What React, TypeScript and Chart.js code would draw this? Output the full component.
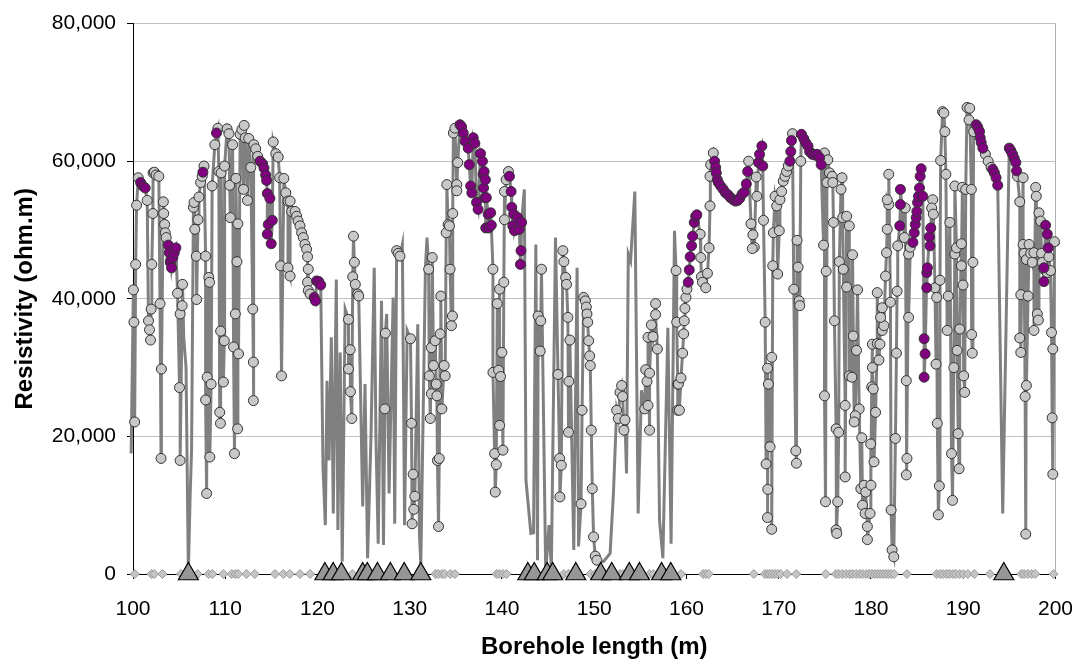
import React, { useEffect, useRef } from "react";
import { Chart, registerables } from "chart.js";

Chart.register(...registerables);

type P = [number, number];

// Borehole length (m), resistivity (ohm.m) — gray marked samples
const grayPoints: P[] = [
  [100.04, 41300], [100.1, 36600], [100.18, 22100], [100.29, 45000], [100.39, 53600], [100.57, 57600],
  [101.54, 54300], [101.68, 36800], [101.79, 35500], [101.9, 34000], [101.97, 38500], [102.04, 45000],
  [102.15, 52400], [102.18, 58300], [102.32, 58400], [102.5, 58000], [102.8, 57800], [102.93, 39300],
  [103.04, 16800], [103.08, 29800], [103.29, 54100], [103.33, 52400], [103.43, 50800], [103.5, 49600],
  [103.6, 48900], [104.83, 40800], [105.04, 27100], [105.11, 37800], [105.11, 16500], [105.33, 39000],
  [105.37, 42100], [106.55, 53300], [106.62, 54000], [106.7, 50100], [106.87, 46200], [106.9, 39900],
  [107.05, 51500], [107.15, 54800], [107.33, 56900], [107.5, 57800], [107.7, 59300], [107.87, 46200],
  [107.87, 25300], [107.98, 11700], [108.04, 28600], [108.22, 43100], [108.3, 42400], [108.33, 17000],
  [108.47, 27600], [108.58, 56400], [108.87, 62400], [109.2, 64800], [109.3, 58500], [109.4, 23500],
  [109.48, 21900], [109.5, 35300], [109.55, 58300], [109.8, 27900], [109.9, 33900], [109.93, 59300],
  [110.2, 64700], [110.4, 64000], [110.48, 56500], [110.55, 51800], [110.8, 62400], [110.9, 33000],
  [111.0, 17500], [111.09, 37800], [111.16, 57500], [111.27, 45400], [111.34, 21100], [111.37, 50900],
  [111.44, 32000], [111.62, 63900], [111.8, 64600], [111.98, 55900], [112.05, 65200], [112.16, 63400],
  [112.41, 54300], [112.55, 63300], [112.77, 59100], [112.98, 38500], [113.05, 30800], [113.05, 25200],
  [113.1, 62400], [113.3, 61800], [113.52, 60700], [115.2, 62800], [115.48, 61100], [115.74, 60600],
  [115.9, 57600], [116.0, 44800], [116.1, 28800], [116.35, 57500], [116.56, 55400], [116.8, 54200],
  [116.8, 44500], [117.03, 43300], [117.03, 54200], [117.2, 52700], [117.57, 52700], [117.74, 52000],
  [117.9, 51300], [118.1, 50600], [118.28, 49600], [118.46, 48900], [118.64, 47900], [118.82, 47200],
  [118.92, 46100], [119.0, 44300], [118.92, 42400], [119.0, 41200], [119.2, 40700],
  [123.36, 37000], [123.54, 32600], [123.36, 29800], [123.57, 26500], [123.72, 22600], [123.9, 49100],
  [124.0, 45300], [123.82, 43200], [124.1, 42100], [124.36, 40700], [124.47, 40400],
  [127.3, 24000], [127.36, 35000], [128.58, 47000], [128.75, 46600], [128.94, 46200],
  [130.08, 34200], [130.19, 21900], [130.37, 14500], [130.55, 11300], [130.44, 9400], [130.26, 7300],
  [132.05, 44300], [132.12, 28800], [132.23, 22600], [132.34, 32900], [132.34, 26200], [132.44, 46000],
  [132.58, 30300], [132.76, 33900], [132.87, 27600], [132.94, 25900], [133.0, 16500], [133.12, 6900],
  [133.2, 16800], [133.3, 34900], [133.37, 40400], [133.48, 24000], [133.73, 30300], [133.84, 28800],
  [133.95, 49600], [134.02, 56600], [134.16, 50800], [134.3, 50600], [134.37, 44300], [134.52, 36100],
  [134.63, 37500], [134.66, 52400], [134.73, 64100], [134.9, 64800], [135.1, 56600], [135.1, 55700],
  [135.2, 59800],
  [139.02, 44300], [139.49, 39300], [139.74, 41400], [140.2, 42400], [139.99, 32200], [139.02, 29300],
  [139.63, 29600], [139.84, 28700], [139.74, 21600], [139.2, 17500], [139.38, 15900], [140.1, 18000],
  [139.27, 11900], [140.27, 55600], [140.45, 57300], [140.7, 58500], [140.27, 51500],
  [143.92, 37500], [144.2, 36800], [144.14, 32400], [144.28, 44300],
  [146.07, 29000], [146.25, 16800], [146.43, 15800], [146.28, 11200], [146.6, 47000], [146.71, 45400],
  [146.9, 43100], [147.0, 42100], [147.14, 37300], [147.36, 34000], [147.25, 28000], [147.21, 20600],
  [148.57, 10200], [148.68, 23800], [148.86, 40200], [149.04, 39700], [149.14, 38800], [149.21, 37800],
  [149.29, 36600], [149.39, 33900], [149.5, 31700], [149.57, 30300], [149.68, 20900], [149.79, 12400],
  [149.93, 5400], [150.11, 2600], [150.29, 2000],
  [152.43, 23800], [152.61, 22600], [152.79, 26400], [152.97, 27400], [153.08, 25800], [153.22, 20900],
  [153.33, 22400],
  [155.47, 24000], [155.58, 29700], [155.72, 28000], [155.83, 24500], [156.0, 20900], [156.0, 29200],
  [155.83, 34400], [156.19, 36200], [156.37, 34500], [156.65, 39300], [156.65, 37700], [156.84, 32700],
  [158.87, 44100], [158.94, 36600], [159.05, 27600], [159.05, 23800],
  [159.23, 23800], [159.12, 27600], [159.4, 28500], [159.58, 32100], [159.69, 34900], [159.76, 36800],
  [159.83, 38600], [159.94, 40200], [160.05, 41400],
  [161.48, 49400], [161.55, 46000], [161.62, 43200], [161.73, 42400], [162.09, 41600], [162.27, 43700],
  [162.45, 47400], [162.55, 53500], [162.55, 57800], [162.62, 59500], [162.91, 61200],
  [166.74, 60000], [166.99, 50900], [167.2, 49300], [167.35, 47500], [167.13, 47300], [167.56, 57700],
  [167.63, 54900],
  [168.35, 51400], [168.53, 36600], [168.78, 29900], [168.88, 27600], [169.06, 18500], [169.24, 31500],
  [168.63, 16000], [168.81, 12300], [168.78, 8200], [169.24, 6500], [169.42, 49600], [169.6, 54900],
  [169.78, 53500], [170.06, 49900], [169.35, 44800], [169.88, 43600], [170.13, 54400], [170.31, 55600],
  [170.49, 57100], [170.67, 57800], [170.85, 58500], [171.03, 59300],
  [171.49, 64000], [171.63, 41400], [171.99, 48500], [172.1, 44600], [172.21, 39700], [172.28, 39000],
  [171.85, 17900], [171.92, 16100], [172.39, 60000],
  [174.96, 61200], [175.32, 60200], [175.5, 58300], [175.79, 57800], [175.22, 56900], [174.86, 47800],
  [175.14, 44000], [174.96, 25900], [175.07, 10500], [175.86, 56900], [175.93, 51100], [176.04, 36800],
  [176.22, 21100], [176.5, 20600], [176.39, 10500], [176.22, 6400], [176.29, 5900], [176.57, 45400],
  [176.86, 57600], [176.75, 55900], [176.93, 51800], [177.0, 44300], [177.2, 24500], [177.2, 14100],
  [177.36, 52000], [177.65, 50600], [178.0, 46400], [177.36, 41700], [177.65, 28800], [177.93, 28600],
  [178.08, 34600], [178.43, 32500], [178.54, 41300], [178.72, 24000], [178.3, 23000], [178.18, 22100],
  [179.0, 19800], [178.9, 12400], [179.26, 12900], [179.43, 11900], [179.08, 10000], [179.36, 8800],
  [179.61, 6900], [179.61, 5000], [179.97, 18900], [180.08, 27200], [180.15, 33400],
  [179.9, 8800], [180.0, 12900], [180.33, 16300], [180.5, 23500], [180.25, 26900], [180.15, 30000],
  [180.86, 31100], [180.68, 33500], [180.97, 33400], [181.22, 35400], [181.4, 36100], [181.04, 37300],
  [181.22, 38700], [180.68, 40900], [181.58, 43300], [181.68, 46700], [181.76, 50100], [181.93, 53700],
  [181.76, 54400], [181.93, 58100], [182.11, 39500], [182.18, 9300], [182.29, 3500], [182.47, 2500],
  [182.65, 19700], [182.76, 32100], [182.83, 41100], [182.9, 47700],
  [183.62, 48900], [183.72, 53200], [183.83, 28100], [183.9, 16800], [183.83, 14400], [184.08, 46500],
  [184.08, 37300], [184.26, 47500],
  [186.69, 54400], [186.58, 53200], [186.76, 52300], [186.94, 41600], [187.12, 40200], [187.05, 30500],
  [187.19, 21900], [187.41, 12800], [187.3, 8600], [187.48, 42700], [187.55, 60100], [187.76, 67200],
  [187.9, 67000], [188.01, 64300], [188.12, 58100], [188.37, 40400], [188.26, 35400], [188.55, 51100],
  [188.73, 17500], [188.84, 10700], [188.98, 30000], [189.09, 46500], [189.09, 56400], [189.27, 47400],
  [189.34, 32500], [189.45, 20400], [189.55, 15300], [189.62, 35600], [189.8, 48000], [189.8, 44800],
  [189.91, 56200], [189.98, 42000], [190.05, 28800], [190.16, 26400], [190.27, 55900], [190.41, 67800],
  [190.63, 66000], [190.7, 67700], [190.91, 34800], [190.98, 32100], [191.05, 45300], [190.88, 55900],
  [191.13, 64300], [192.4, 61000], [192.7, 60000], [193.02, 59100],
  [195.88, 57800], [196.13, 54100], [196.49, 57600], [196.24, 40600], [196.49, 47900], [196.6, 46600],
  [196.85, 45700], [197.03, 40400], [196.13, 34300], [196.24, 32200], [196.85, 27400], [196.71, 25800],
  [196.78, 5800], [197.14, 47900], [197.31, 46600], [197.49, 45300], [197.67, 46700], [197.85, 56200],
  [197.92, 54900], [198.03, 37800], [198.14, 36900], [197.67, 35400], [198.21, 52500], [198.39, 51300],
  [198.49, 46600], [198.57, 45300], [198.75, 44300], [199.11, 43800], [199.28, 46100], [199.46, 44100],
  [199.57, 35100], [199.71, 32700], [199.64, 22700], [199.71, 14500], [199.89, 48300],
];

// purple highlighted samples
const purplePoints: P[] = [
  [100.82, 56900], [101.07, 56400], [101.32, 56100], [103.83, 47800], [103.93, 46700], [104.04, 45300],
  [104.11, 45700], [104.18, 44500], [104.33, 46000], [104.47, 46700], [104.65, 47400], [107.58, 58400],
  [109.05, 64100], [113.77, 60000], [114.06, 59600], [114.2, 59000], [114.38, 58000], [114.48, 57200],
  [114.56, 55300], [114.84, 54600], [114.66, 50800], [114.56, 49400], [114.98, 48000], [115.1, 51400],
  [119.64, 40200], [119.78, 39700], [119.9, 42600], [120.14, 42500], [120.35, 42000],
  [135.45, 65300], [135.62, 65000], [135.8, 64100], [136.0, 62900], [136.34, 61900], [136.45, 59500],
  [136.6, 56400], [136.73, 55400], [136.88, 63400], [137.06, 62600], [137.24, 54000], [137.41, 53000],
  [137.67, 61100], [137.88, 60000], [137.95, 58100], [138.0, 56100], [138.06, 58500], [138.13, 54700],
  [138.2, 57300], [138.24, 50300], [138.3, 54700], [138.5, 52300], [138.56, 50300], [138.77, 52500],
  [138.84, 50700],
  [140.81, 57800], [140.99, 55600], [141.06, 53300], [141.17, 50600], [141.27, 52300], [141.35, 49900],
  [141.7, 51800], [141.88, 50100], [142.0, 45000], [142.06, 47000], [142.13, 51100],
  [160.19, 42400], [160.3, 44200], [160.4, 46100], [160.55, 47700], [160.66, 49100], [160.84, 51100],
  [161.0, 52000], [161.12, 52200],
  [163.05, 60000], [163.16, 59100], [163.23, 58300], [163.34, 57300], [163.45, 56900], [163.7, 56400],
  [163.98, 55900], [164.23, 55400], [164.52, 55100], [164.77, 54700], [165.06, 54400], [165.31, 54200],
  [165.56, 54300], [165.77, 54600], [166.02, 55200], [166.27, 55500], [166.49, 56700], [166.63, 58500],
  [167.81, 59800], [167.92, 61000], [168.17, 62200], [168.27, 59300],
  [171.21, 60000], [171.31, 61400], [171.38, 63000], [172.46, 63900], [172.71, 63300], [172.92, 62700],
  [173.17, 62200], [173.35, 61400], [173.64, 61000], [173.89, 60900], [174.14, 61000], [174.43, 60500],
  [174.6, 59500],
  [183.12, 50600], [183.19, 53700], [183.19, 55900], [184.55, 48200], [184.69, 49600], [184.8, 50800],
  [184.9, 51800], [184.97, 52700], [185.05, 54000], [185.15, 54900], [185.26, 56100], [185.33, 57800],
  [185.44, 58900], [185.62, 54900], [185.76, 34200], [185.87, 32000], [185.76, 28600], [186.05, 43800],
  [186.12, 44500], [186.05, 41600], [186.33, 49000], [186.4, 47700], [186.48, 50300],
  [191.41, 65300], [191.59, 64900], [191.77, 64300], [191.84, 63400], [191.95, 62700], [192.13, 61900],
  [193.2, 58800], [193.38, 58300], [193.56, 57600], [193.74, 56500],
  [194.99, 61900], [195.17, 61500], [195.35, 61000], [195.53, 60400], [195.7, 59800], [195.78, 58600],
  [198.75, 44500], [198.75, 42500], [198.93, 50700], [199.11, 49400], [199.21, 47400],
];

// samples on the profile line without a marker
const lineOnlyPoints: P[] = [
  [98.9, 32500], [99.0, 54000], [99.15, 45000], [99.3, 55000], [99.5, 61500], [99.65, 38000], [99.8, 17500],
  [105.5, 34400], [105.75, 30000], [106.0, 300], [106.19, 11200], [106.35, 18000],
  [120.6, 15500], [120.85, 7100], [121.03, 28100], [121.25, 16500], [121.5, 34400], [121.71, 8800],
  [122.04, 42800], [122.21, 6400], [122.46, 32200], [122.68, 1800], [123.0, 38500],
  [124.9, 9800], [125.15, 27600], [125.43, 2300], [125.8, 20000], [126.15, 44500], [126.33, 20400],
  [126.58, 4400], [126.94, 39700], [127.15, 4200], [127.5, 37800], [127.76, 11700], [128.2, 40200],
  [128.37, 7300], [129.2, 47900], [129.44, 7100], [129.72, 35400], [130.87, 36300], [131.05, 5900],
  [131.2, 1300], [131.7, 44500], [131.87, 48900],
  [142.42, 55900], [142.6, 13600], [143.13, 5900], [143.42, 6000], [143.67, 47900], [143.85, 2000],
  [144.74, 300], [145.1, 7100], [145.35, 800], [145.8, 48900], [147.78, 3500], [148.14, 44500],
  [148.3, 4000], [151.0, 1800], [151.72, 3000], [152.08, 11700], [153.5, 14600], [153.69, 46500],
  [153.94, 45500], [154.4, 55600], [154.76, 8800], [155.12, 26700], [157.08, 7800], [157.44, 2300],
  [157.98, 35800], [158.33, 4400], [158.7, 49900],
  [194.28, 8800], [200.43, 47900],
];

// markers on the zero line
const diamondX: number[] = [
  100.2, 102.0, 102.3, 103.2, 105.2, 106.3, 107.0, 108.2, 108.6, 109.8, 110.7, 111.1, 111.4, 112.3,
  113.2, 115.4, 116.3, 117.0, 118.1, 119.2, 123.8, 132.8, 133.1, 133.5, 133.8, 134.4, 134.9, 139.4,
  139.7, 140.1, 140.5, 144.9, 146.7, 147.2, 149.6, 150.1, 152.8, 153.1, 153.5, 156.0, 156.4, 159.4,
  161.8, 162.1, 162.4, 167.3, 168.5, 168.8, 169.0, 169.3, 169.6, 169.9, 170.2, 170.9, 171.9, 175.1,
  176.2, 176.5, 176.9, 177.3, 177.7, 178.0, 178.4, 178.8, 179.1, 179.5, 179.8, 180.1, 180.4, 180.7,
  181.0, 181.3, 181.6, 181.9, 182.2, 182.5, 183.9, 187.1, 187.5, 187.8, 188.2, 188.5, 188.9, 189.2,
  189.6, 190.0, 190.5, 191.2, 192.9, 196.3, 196.6, 197.0, 197.4, 197.8, 199.8,
];

const triangleX: number[] = [
  106.0, 120.8, 121.7, 122.6, 124.9, 125.4, 126.5, 127.9, 129.4, 131.2, 142.8, 143.5, 144.9, 145.5,
  148.0, 150.7, 151.9, 153.8, 154.9, 157.3, 158.3, 194.4,
];

const X_MIN = 100;
const X_MAX = 200;
const Y_MAX = 80000;

const FONT = "'Liberation Sans', Arial, Helvetica, sans-serif";

export default function App() {
  const ref = useRef<HTMLCanvasElement>(null);

  useEffect(() => {
    if (!ref.current) return;
    const toXY = (a: P[]) => a.map(([x, y]) => ({ x, y }));
    const lineData = toXY(
      [...grayPoints, ...purplePoints, ...lineOnlyPoints].sort((a, b) => a[0] - b[0])
    );
    const chart = new Chart(ref.current, {
      type: "scatter",
      data: {
        datasets: [
          {
            label: "profile",
            data: lineData,
            showLine: true,
            borderColor: "#808080",
            borderWidth: 3,
            pointRadius: 0,
            tension: 0,
            clip: false as any,
            order: 5,
          },
          {
            label: "samples",
            data: toXY(grayPoints),
            pointRadius: 5,
            pointBackgroundColor: "#c8c8c8",
            pointBorderColor: "#333333",
            pointBorderWidth: 1,
            showLine: false,
            clip: false as any,
            order: 4,
          },
          {
            label: "selected",
            data: toXY(purplePoints),
            pointRadius: 5,
            pointBackgroundColor: "#800080",
            pointBorderColor: "#333333",
            pointBorderWidth: 1,
            showLine: false,
            clip: false as any,
            order: 3,
          },
          {
            label: "diamonds",
            data: diamondX.map((x) => ({ x, y: 0 })),
            pointStyle: "rectRot",
            pointRadius: 4.5,
            pointBackgroundColor: "#c4c4c4",
            pointBorderColor: "#9a9a9a",
            pointBorderWidth: 1,
            showLine: false,
            clip: false as any,
            order: 2,
          },
          {
            label: "triangles",
            data: triangleX.map((x) => ({ x, y: 0 })),
            pointStyle: "triangle",
            pointRadius: 11.5,
            pointBackgroundColor: "#969696",
            pointBorderColor: "#000000",
            pointBorderWidth: 1.2,
            showLine: false,
            clip: false as any,
            order: 1,
          },
        ],
      },
      options: {
        responsive: true,
        maintainAspectRatio: false,
        animation: false,
        events: [],
        layout: { padding: { top: 21, right: 26, left: 0, bottom: 0 } },
        plugins: { legend: { display: false }, tooltip: { enabled: false } },
        scales: {
          x: {
            type: "linear",
            min: X_MIN,
            max: X_MAX,
            afterFit: (s: any) => {
              s.height = 85;
            },
            border: { display: true, color: "#000000", width: 1 },
            grid: {
              drawOnChartArea: true,
              color: (ctx: any) => (ctx.tick && ctx.tick.value === X_MAX ? "#b0b0b0" : "rgba(0,0,0,0)"),
              tickColor: "#000000",
              tickLength: 5,
              lineWidth: 1,
            },
            ticks: {
              stepSize: 10,
              padding: 18,
              color: "#000000",
              font: { family: FONT, size: 21 },
              maxRotation: 0,
              callback: (v: any) => String(v),
            },
            title: {
              display: true,
              text: "Borehole length (m)",
              color: "#000000",
              font: { family: FONT, size: 24, weight: "bold", lineHeight: 1.0 },
              padding: { top: 0, bottom: 0 },
            },
          },
          y: {
            type: "linear",
            min: 0,
            max: Y_MAX,
            afterFit: (s: any) => {
              s.width = 133;
            },
            border: { display: true, color: "#000000", width: 1 },
            grid: {
              color: "#c0c0c0",
              tickColor: "#000000",
              tickLength: 6,
              lineWidth: 1,
            },
            ticks: {
              stepSize: 20000,
              padding: 11,
              color: "#000000",
              font: { family: FONT, size: 21 },
              callback: (v: any) => Number(v).toLocaleString("en-US"),
            },
            title: {
              display: true,
              text: "Resistivity (ohm.m)",
              color: "#000000",
              font: { family: FONT, size: 24, weight: "bold" },
              padding: { top: 11, bottom: 0 },
            },
          },
        },
      },
    });
    return () => chart.destroy();
  }, []);

  return (
    <div style={{ position: "absolute", left: 0, top: 0, width: 1091, height: 659, background: "#ffffff" }}>
      <canvas ref={ref} />
    </div>
  );
}
